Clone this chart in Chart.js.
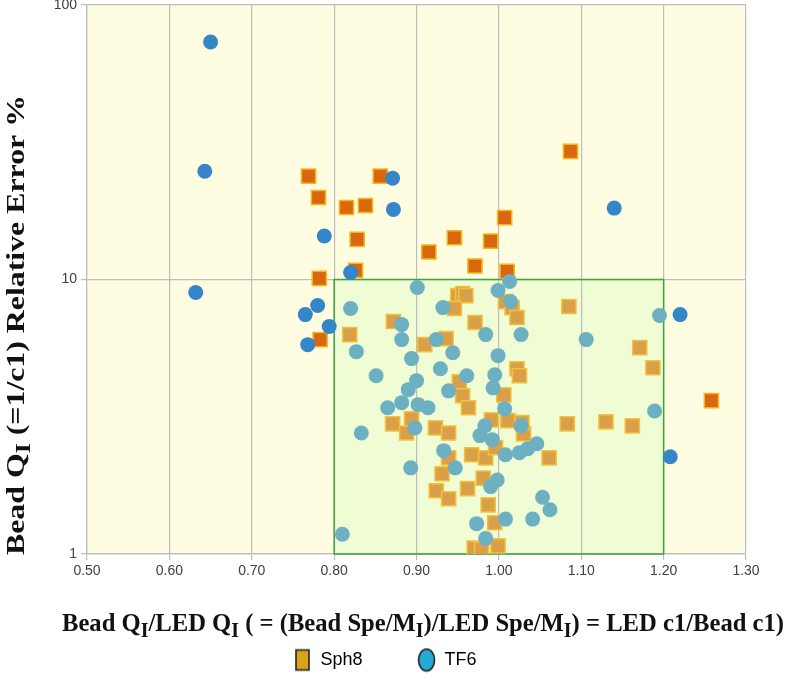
<!DOCTYPE html>
<html>
<head>
<meta charset="utf-8">
<script src="https://cdn.jsdelivr.net/npm/chart.js@4.4.1/dist/chart.umd.min.js"></script>
<style>
  html, body { margin: 0; padding: 0; background: #fff; }
  #wrap { width: 800px; height: 679px; }
</style>
</head>
<body>
<div id="wrap"><canvas id="chart" width="800" height="679"></canvas></div>
<script>
// values
const sph8X = [0.769, 0.781, 0.815, 0.838, 0.856, 0.828, 0.826, 0.782, 0.783, 0.915, 0.946, 0.971, 0.990, 1.007, 1.010, 1.087, 1.258,
  0.872, 0.819, 0.910, 0.950, 0.956, 0.960, 0.946, 1.008, 1.016, 1.022, 0.971, 0.936, 1.022, 1.025, 0.952, 0.956, 1.006, 0.963,
  1.085, 1.171, 1.187, 1.130, 1.162, 1.083, 1.061, 0.871, 0.894, 0.888, 0.923, 0.939, 0.939, 0.931, 0.924, 0.939, 0.962, 0.967,
  0.984, 0.981, 0.987, 0.995, 0.970, 0.979, 0.999, 0.991, 1.011, 1.030, 0.996, 1.028];
const sph8Y = [23.8, 19.9, 18.3, 18.6, 23.8, 14.0, 10.8, 10.1, 6.04, 12.6, 14.2, 11.2, 13.8, 16.8, 10.7, 29.3, 3.62,
  7.03, 6.30, 5.79, 8.74, 8.89, 8.74, 7.84, 8.31, 7.90, 7.27, 6.97, 6.09, 4.73, 4.46, 4.24, 3.77, 3.80, 3.41,
  7.97, 5.65, 4.77, 3.03, 2.93, 2.98, 2.24, 2.98, 3.11, 2.76, 2.88, 2.76, 2.24, 1.96, 1.70, 1.59, 1.73, 2.30,
  2.24, 1.89, 1.51, 1.30, 1.05, 1.04, 1.07, 3.08, 3.06, 2.74, 2.44, 3.01];

const tf6X = [0.650, 0.643, 0.632, 0.871, 0.872, 0.788, 0.820, 0.765, 0.780, 0.794, 0.768, 1.140, 1.220, 1.208,
  0.820, 0.901, 0.882, 0.882, 0.827, 0.894, 0.851, 0.900, 0.890, 0.882, 0.865, 0.902, 0.914, 0.999, 1.013, 0.932,
  1.014, 0.984, 1.027, 0.924, 0.944, 0.999, 0.929, 0.961, 0.995, 0.939, 0.993, 1.007, 1.195, 1.106, 1.189, 0.833,
  0.898, 0.933, 0.947, 0.893, 0.810, 0.977, 0.983, 0.992, 1.008, 1.027, 1.046, 1.035, 1.025, 0.998, 0.990, 1.053,
  1.062, 1.041, 1.008, 0.973, 0.984];
const tf6Y = [73.3, 24.8, 8.97, 23.4, 18.0, 14.4, 10.6, 7.45, 8.04, 6.74, 5.79, 18.2, 7.45, 2.26,
  7.84, 9.35, 6.85, 6.04, 5.46, 5.15, 4.46, 4.28, 3.97, 3.56, 3.41, 3.50, 3.41, 9.12, 9.83, 7.90,
  8.31, 6.30, 6.30, 6.04, 5.41, 5.28, 4.73, 4.46, 4.50, 3.93, 4.03, 3.38, 7.39, 6.04, 3.32, 2.76,
  2.88, 2.38, 2.06, 2.06, 1.18, 2.70, 2.93, 2.61, 2.30, 2.93, 2.52, 2.42, 2.34, 1.86, 1.76, 1.61,
  1.45, 1.34, 1.34, 1.29, 1.14];

const xTicks = [0.5, 0.6, 0.7, 0.8, 0.9, 1.0, 1.1, 1.2, 1.3];
const yTicks = [1, 10, 100];
const boxX = [0.8, 1.2];
const boxY = [1, 10];

const toPoints = (xs, ys) => xs.map((x, i) => ({ x: x, y: ys[i] }));
const inBox = p => p && p.x >= boxX[0] && p.x <= boxX[1] && p.y >= boxY[0] && p.y <= boxY[1];

// legend markers (tall square / tall ellipse like the original)
function marker(kind) {
  const c = document.createElement('canvas');
  c.width = 19; c.height = 25;
  const g = c.getContext('2d');
  g.lineWidth = 1.6;
  g.strokeStyle = '#222';
  if (kind === 'rect') {
    g.fillStyle = '#d9a41c';
    g.fillRect(3, 2.5, 13, 20);
    g.strokeRect(3, 2.5, 13, 20);
  } else {
    g.fillStyle = '#27a9d6';
    g.beginPath();
    g.ellipse(9.5, 12.5, 8, 11, 0, 0, Math.PI * 2);
    g.fill();
    g.stroke();
  }
  return c;
}

// background + target box under the grid
const areaPlugin = {
  id: 'area',
  beforeDraw(chart) {
    const { ctx, chartArea: a, scales: { x, y } } = chart;
    ctx.save();
    ctx.fillStyle = '#fffde1';
    ctx.fillRect(a.left, a.top, a.right - a.left, a.bottom - a.top);
    const l = x.getPixelForValue(boxX[0]), r = x.getPixelForValue(boxX[1]);
    const t = y.getPixelForValue(boxY[1]), b = y.getPixelForValue(boxY[0]);
    ctx.fillStyle = '#effcd4';
    ctx.fillRect(l, t, r - l, b - t);
    ctx.restore();
  },
  beforeDatasetsDraw(chart) {
    const { ctx, scales: { x, y } } = chart;
    const l = x.getPixelForValue(boxX[0]), r = x.getPixelForValue(boxX[1]);
    const t = y.getPixelForValue(boxY[1]), b = y.getPixelForValue(boxY[0]);
    ctx.save();
    ctx.strokeStyle = '#3da53a';
    ctx.lineWidth = 1.5;
    ctx.strokeRect(l, t, r - l, b - t);
    ctx.restore();
  }
};

// axis titles with subscript I
const SUB = 0.8;
function richWidth(ctx, parts, size) {
  const big = 'bold ' + size + 'px "Liberation Serif", serif';
  const small = 'bold ' + Math.round(size * SUB) + 'px "Liberation Serif", serif';
  let w = 0;
  parts.forEach(p => { ctx.font = p.sub ? small : big; w += ctx.measureText(p.t).width; });
  return w;
}
function paintRich(ctx, parts, size, cx, cy, targetW) {
  const big = 'bold ' + size + 'px "Liberation Serif", serif';
  const small = 'bold ' + Math.round(size * SUB) + 'px "Liberation Serif", serif';
  const w = richWidth(ctx, parts, size);
  const k = targetW / w;
  ctx.save();
  ctx.translate(cx, cy);
  ctx.scale(k, 1);
  ctx.fillStyle = '#111';
  ctx.textBaseline = 'middle';
  let pos = -w / 2;
  parts.forEach(p => {
    ctx.font = p.sub ? small : big;
    ctx.fillText(p.t, pos, p.sub ? size * 0.28 : 0);
    pos += ctx.measureText(p.t).width;
  });
  ctx.restore();
}
const xTitle = [
  { t: 'Bead Q' }, { t: 'I', sub: true }, { t: '/LED Q' }, { t: 'I', sub: true },
  { t: ' ( = (Bead Spe/M' }, { t: 'I', sub: true }, { t: ')/LED Spe/M' }, { t: 'I', sub: true },
  { t: ') = LED c1/Bead c1)' }
];
const yTitle = [{ t: 'Bead Q' }, { t: 'I', sub: true }, { t: ' (=1/c1) Relative Error %' }];

const titlePlugin = {
  id: 'titles',
  afterDraw(chart) {
    const ctx = chart.ctx;
    paintRich(ctx, xTitle, 26, 423, 624, 722);
    ctx.save();
    ctx.translate(17, 325);
    ctx.rotate(-Math.PI / 2);
    paintRich(ctx, yTitle, 26, 0, 0, 460);
    ctx.restore();
  }
};

new Chart(document.getElementById('chart'), {
  type: 'scatter',
  data: {
    datasets: [
      {
        label: 'Sph8',
        data: toPoints(sph8X, sph8Y),
        pointStyle: 'rect',
        pointRadius: 10,
        pointHoverRadius: 10,
        borderWidth: 1.5,
        backgroundColor: c => inBox(c.raw) ? '#d9a049' : '#d9670f',
        borderColor: c => inBox(c.raw) ? '#f2c23c' : '#f5b61a',
        order: 1
      },
      {
        label: 'TF6',
        data: toPoints(tf6X, tf6Y),
        pointStyle: 'circle',
        pointRadius: 7.5,
        pointHoverRadius: 7.5,
        borderWidth: 0,
        backgroundColor: c => inBox(c.raw) ? '#6cb0c2' : '#3586c8',
        order: 0
      }
    ]
  },
  options: {
    responsive: false,
    animation: false,
    layout: { autoPadding: false, padding: { left: 0, right: 0, top: 5, bottom: 0 } },
    plugins: {
      tooltip: { enabled: false },
      legend: {
        position: 'bottom',
        labels: {
          usePointStyle: true,
          boxHeight: 22,
          padding: 10,
          color: '#111',
          font: { family: '"Liberation Sans", Arial, sans-serif', size: 18 },
          generateLabels: () => [
            { text: 'Sph8         ', pointStyle: marker('rect'), datasetIndex: 0, hidden: false, lineWidth: 0 },
            { text: 'TF6      ', pointStyle: marker('circle'), datasetIndex: 1, hidden: false, lineWidth: 0 }
          ]
        }
      }
    },
    scales: {
      x: {
        type: 'linear',
        min: xTicks[0],
        max: xTicks[xTicks.length - 1],
        afterBuildTicks: s => { s.ticks = xTicks.map(v => ({ value: v })); },
        afterFit: s => { s.height = 87; },
        ticks: {
          callback: v => Number(v).toFixed(2),
          color: '#404040',
          font: { family: '"Liberation Sans Narrow", "Liberation Sans", sans-serif', size: 14 },
          maxRotation: 0,
          padding: 3
        },
        grid: { color: '#bdbdbd', lineWidth: 1.2, tickLength: 6, tickColor: '#bdbdbd' },
        border: { color: '#bdbdbd', width: 1.2 }
      },
      y: {
        type: 'logarithmic',
        min: yTicks[0],
        max: yTicks[yTicks.length - 1],
        afterBuildTicks: s => { s.ticks = yTicks.map(v => ({ value: v })); },
        afterFit: s => { s.width = 87; s.paddingTop = 0; s.paddingBottom = 0; },
        ticks: {
          callback: v => String(v),
          color: '#404040',
          font: { family: '"Liberation Sans Narrow", "Liberation Sans", sans-serif', size: 14 },
          padding: 4
        },
        grid: { color: '#bdbdbd', lineWidth: 1.2, tickLength: 6, tickColor: '#bdbdbd' },
        border: { color: '#bdbdbd', width: 1.2 }
      },
      // empty right-hand margin so the plot ends at 1.30 like the original
      gap: {
        type: 'linear',
        position: 'right',
        afterFit: s => { s.width = 54; s.paddingTop = 0; s.paddingBottom = 0; },
        ticks: { display: false },
        grid: { display: false },
        border: { display: false }
      }
    }
  },
  plugins: [areaPlugin, titlePlugin]
});
</script>
</body>
</html>
